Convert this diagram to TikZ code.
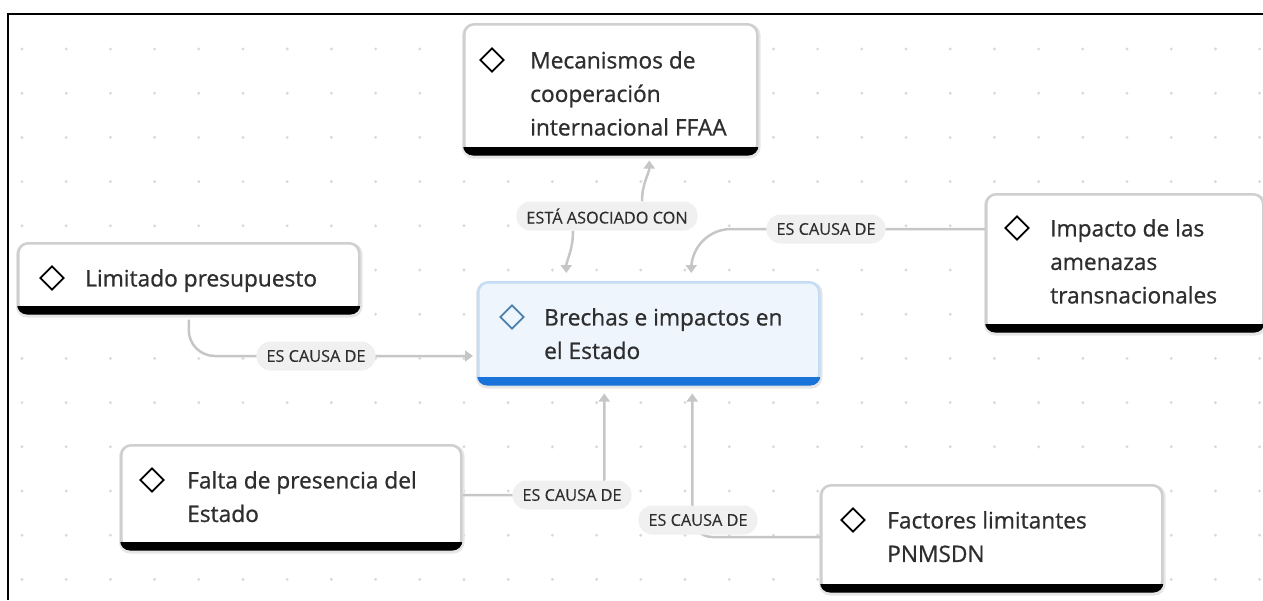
\documentclass[tikz,border=0pt]{standalone}
\usepackage{fontspec}
\setmainfont{Open Sans}
\newfontfamily\cardfont{Open Sans}[FakeBold=0.8]
\newfontfamily\pillfont{Open Sans}[FakeBold=0.2]
\usetikzlibrary{shapes.geometric,arrows.meta}
\definecolor{linec}{HTML}{C6C6C6}
\definecolor{dotc}{HTML}{D9D9D9}
\definecolor{boxborder}{HTML}{CFCFCF}
\definecolor{txt}{HTML}{2E2E2E}
\definecolor{pillc}{HTML}{F0F0F0}
\definecolor{bfill}{HTML}{EFF5FD}
\definecolor{bborder}{HTML}{C4DCF5}
\definecolor{bbar}{HTML}{1A73D9}
\definecolor{bicon}{HTML}{4A7FAE}
\definecolor{shadowc}{HTML}{E6E6E6}
\pgfdeclarelayer{background}
\pgfsetlayers{background,main}
\tikzset{
 card/.style={draw=boxborder, line width=2.5pt, rounded corners=10pt, fill=white, anchor=north west, inner sep=0pt},
 bluecard/.style={card, draw=bborder, fill=bfill},
 ctext/.style={anchor=north west, inner sep=0pt, align=left, text=txt, font=\cardfont\fontsize{22.7}{33.5}\selectfont},
 icon/.style={diamond, draw=black, line width=1.8pt, minimum size=24pt, inner sep=0pt, aspect=1},
 pill/.style={fill=pillc, rounded corners=14pt, minimum height=29pt, inner xsep=10pt, inner ysep=0pt, text=txt, font=\pillfont\fontsize{16.3}{18}\selectfont},
 conn/.style={draw=linec, line width=2.5pt},
 arr/.style={-{Triangle[width=11pt,length=8pt]}},
}
\newcommand\cardbar[2]{%
  \begin{scope}
    \clip ([xshift=-3pt,yshift=8pt]#1.south west) rectangle ([xshift=3pt,yshift=-3pt]#1.south east);
    \fill[#2, rounded corners=10pt] (#1.north west) rectangle (#1.south east);
  \end{scope}}
\begin{document}
\begin{tikzpicture}[x=1pt,y=1pt]
\useasboundingbox (0,0) rectangle (1263,-600);

% cards
\node[card, minimum width=293pt, minimum height=130pt] (M) at (463,-23) {};
\cardbar{M}{black}
\node[card, minimum width=341pt, minimum height=70pt] (L) at (17,-242) {};
\cardbar{L}{black}
\node[bluecard, minimum width=341pt, minimum height=102pt] (B) at (477,-281) {};
\cardbar{B}{bbar}
\node[card, minimum width=277pt, minimum height=137pt] (I) at (985,-193) {};
\cardbar{I}{black}
\node[card, minimum width=340pt, minimum height=104pt] (F) at (120,-444) {};
\cardbar{F}{black}
\node[card, minimum width=341pt, minimum height=106pt] (P) at (820,-484) {};
\cardbar{P}{black}

% icons
\node[icon] (iM) at (492,-60) {};
\node[icon] (iL) at (52,-278) {};
\node[icon, draw=bicon] (iB) at (512,-317) {};
\node[icon] (iI) at (1017,-228) {};
\node[icon] (iF) at (152,-480) {};
\node[icon] (iP) at (853,-520) {};

% texts
\node[ctext] (tM) at (530,-51) {Mecanismos de\\cooperación\\internacional FFAA};
\node[ctext] (tL) at (85,-269) {Limitado presupuesto};
\node[ctext] (tB) at (544,-308) {Brechas e impactos en\\el Estado};
\node[ctext] (tI) at (1050,-219) {Impacto de las\\amenazas\\transnacionales};
\node[ctext] (tF) at (187,-471) {Falta de presencia del\\Estado};
\node[ctext] (tP) at (887,-511) {Factores limitantes\\PNMSDN};

% edge labels
\node[pill] (A) at (607,-216) {ESTÁ ASOCIADO CON};
\node[pill] (C1) at (826,-229) {ES CAUSA DE};
\node[pill] (C2) at (316,-356) {ES CAUSA DE};
\node[pill] (C3) at (572,-495) {ES CAUSA DE};
\node[pill] (C4) at (698,-520) {ES CAUSA DE};
\coordinate (q5) at (720,-537);

\begin{pgfonlayer}{background}
  \foreach \i in {0,...,28} \foreach \j in {0,...,12}
    \fill[dotc] ({22+44.2*\i},{-49-44.2*\j}) circle (1.6pt);
  \draw[line width=2pt] (8,-600) -- (8,-14) -- (1263,-14);
  % soft card shadows
  \foreach \n in {M,L,B,I,F,P}
    \fill[shadowc, rounded corners=11pt] ([xshift=-1pt,yshift=-3pt]\n.south west) rectangle ([xshift=2pt,yshift=-1pt]\n.north east);
  % connectors
  \draw[conn, arr, rounded corners=26pt, shorten <=5pt, shorten >=4pt] (L.south) |- (B.west |- C2);
  \draw[conn, arr, shorten >=5pt] ([xshift=35pt]A.north) to[out=90,in=-90] ([xshift=38.5pt]M.south);
  \draw[conn, arr, shorten >=8pt] ([xshift=-34pt]A.south) to[out=-90,in=90] ([xshift=-82.5pt]B.north);
  \draw[conn, arr, rounded corners=40pt, shorten >=8pt] (I.west |- C1) -| ([xshift=42.5pt]B.north);
  \draw[conn, arr, rounded corners=15pt, shorten >=8pt] (F.east |- C3) -| ([xshift=-44.5pt]B.south);
  \draw[conn, arr, rounded corners=20pt, shorten >=8pt] (P.west |- q5) -| ([xshift=43.5pt]B.south);
\end{pgfonlayer}
\end{tikzpicture}
\end{document}
